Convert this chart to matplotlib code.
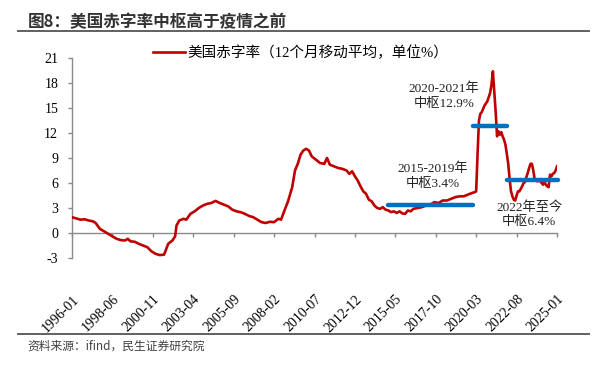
import matplotlib
matplotlib.use("Agg")
import matplotlib.pyplot as plt
from matplotlib.lines import Line2D

plt.rcParams['font.family'] = ['Liberation Serif', 'Noto Sans CJK SC']
plt.rcParams['axes.unicode_minus'] = False

# ==========================================
# Data (% of GDP, 12m moving avg)
# ==========================================
dates = [
    "1996-01", "1996-04", "1996-07", "1996-10", "1997-01", "1997-04", "1997-06", "1997-09", "1997-12",
    "1998-03", "1998-06", "1998-09", "1998-12", "1999-03", "1999-05", "1999-07", "1999-10",
    "2000-01", "2000-04", "2000-07", "2000-10", "2001-01", "2001-04", "2001-07", "2001-08", "2001-10",
    "2002-01", "2002-03", "2002-04", "2002-06", "2002-09", "2002-11", "2003-02", "2003-05", "2003-08",
    "2003-11", "2004-02", "2004-05", "2004-08", "2004-11", "2005-02", "2005-05", "2005-08", "2005-11",
    "2006-02", "2006-05", "2006-08", "2006-11", "2007-02", "2007-05", "2007-08", "2007-11",
    "2008-02", "2008-05", "2008-07", "2008-09", "2008-12", "2009-03", "2009-05", "2009-07", "2009-09",
    "2009-11", "2010-01", "2010-03", "2010-05", "2010-08", "2010-11", "2011-02", "2011-04", "2011-06",
    "2011-09", "2011-12", "2012-03", "2012-06", "2012-08", "2012-10", "2012-12", "2013-02", "2013-04",
    "2013-06", "2013-08", "2013-10", "2013-12", "2014-02", "2014-04", "2014-06", "2014-08", "2014-10",
    "2014-12", "2015-02", "2015-04", "2015-06", "2015-08", "2015-10", "2015-12", "2016-02", "2016-04",
    "2016-06", "2016-09", "2016-12", "2017-03", "2017-06", "2017-09", "2017-12", "2018-03", "2018-06",
    "2018-09", "2018-12", "2019-03", "2019-06", "2019-09", "2019-12", "2020-02", "2020-03", "2020-04",
    "2020-05", "2020-06", "2020-07", "2020-09", "2020-11", "2021-01", "2021-02", "2021-03", "2021-04",
    "2021-05", "2021-06", "2021-07", "2021-08", "2021-09", "2021-10", "2021-11", "2021-12",
    "2022-01", "2022-02", "2022-03", "2022-04", "2022-05", "2022-06", "2022-07", "2022-08", "2022-09",
    "2022-10", "2022-11", "2022-12", "2023-01", "2023-02", "2023-03", "2023-04", "2023-05", "2023-06",
    "2023-07", "2023-08", "2023-09", "2023-10", "2023-11", "2023-12", "2024-01", "2024-02", "2024-03",
    "2024-04", "2024-05", "2024-06", "2024-07", "2024-08", "2024-09", "2024-10", "2024-11", "2024-12",
    "2025-01",
]
deficit = [
    1.9, 1.75, 1.6, 1.65, 1.5, 1.4, 1.2, 0.5, 0.2,
    -0.1, -0.4, -0.7, -0.85, -0.9, -0.7, -1.0, -1.05,
    -1.3, -1.5, -1.7, -2.2, -2.5, -2.65, -2.6, -2.2, -1.3,
    -0.9, -0.4, 0.9, 1.5, 1.7, 1.6, 2.3, 2.6, 3.0,
    3.3, 3.5, 3.6, 3.85, 3.6, 3.4, 3.2, 2.8, 2.6,
    2.5, 2.3, 2.05, 1.9, 1.6, 1.3, 1.2, 1.35,
    1.3, 1.7, 1.6, 2.5, 3.8, 5.5, 7.5, 8.3, 9.4,
    9.9, 10.1, 9.9, 9.2, 8.8, 8.4, 8.3, 9.0, 8.2,
    8.0, 7.8, 7.7, 7.5, 7.1, 7.4, 6.8, 6.3, 5.6,
    5.0, 4.7, 4.0, 3.8, 3.3, 3.0, 2.9, 3.1, 2.8,
    2.7, 2.5, 2.6, 2.4, 2.6, 2.35, 2.3, 2.7, 2.6,
    2.9, 3.0, 3.1, 3.3, 3.4, 3.7, 3.6, 3.9, 3.9,
    4.1, 4.3, 4.4, 4.4, 4.6, 4.8, 4.9, 5.0, 9.5,
    13.5, 14.3, 14.5, 15.3, 15.8, 16.8, 17.8, 19.4, 17.0,
    14.5, 11.6, 12.2, 11.8, 12.1, 11.6, 11.2, 10.6,
    9.5, 8.3, 6.5, 5.0, 4.4, 4.0, 3.9, 4.5, 5.0,
    5.0, 5.3, 5.6, 6.0, 6.1, 6.7, 7.2, 7.8, 8.3,
    8.3, 7.5, 6.4, 6.3, 6.2, 6.3, 6.2, 6.0, 5.8,
    6.1, 5.8, 5.6, 5.5, 7.0, 6.8, 7.1, 7.2, 7.5,
    8.0,
]

# median levels for each period
hub_starts = ["2014-12", "2020-01", "2022-01"]
hub_ends = ["2020-01", "2022-01", "2025-02"]
hub_values = [3.4, 12.9, 6.4]
hub_labels = ["2015-2019年\n中枢3.4%", "2020-2021年\n中枢12.9%", "2022年至今\n中枢6.4%"]
hub_label_pos = [("2017-08", 6.8), ("2018-04", 16.4), ("2023-05", 2.2)]

tick_labels = ["1996-01", "1998-06", "2000-11", "2003-04", "2005-09", "2008-02", "2010-07",
               "2012-12", "2015-05", "2017-10", "2020-03", "2022-08", "2025-01"]
y_ticks = [-3, 0, 3, 6, 9, 12, 15, 18, 21]


def month_index(s):
    y, m = s.split("-")
    return (int(y) - 1996) * 12 + int(m) - 1


x = [month_index(d) for d in dates]

# ==========================================
# Plot
# ==========================================
fig = plt.figure(figsize=(6.03, 3.65), dpi=100)
ax = fig.add_axes([72 / 603, 1 - 258 / 365, 485 / 603, 200 / 365])

ax.plot(x, deficit, color="#C00000", lw=1.9, label="美国赤字率（12个月移动平均，单位%）",
        solid_joinstyle="round", zorder=3)

for s, e, v in zip(hub_starts, hub_ends, hub_values):
    ax.plot([month_index(s), month_index(e)], [v, v], color="#0070C0", lw=3.2,
            solid_capstyle="round", zorder=4, clip_on=False)

for txt, (d, v) in zip(hub_labels, hub_label_pos):
    ax.text(month_index(d), v, txt, ha="center", va="center", fontsize=9.5,
            linespacing=1.3, color="#222222", multialignment="center")

for sp in ["top", "right"]:
    ax.spines[sp].set_visible(False)
ax.spines["bottom"].set_position(("data", 0))
for sp in ["left", "bottom"]:
    ax.spines[sp].set_color("#8a8a8a")
    ax.spines[sp].set_linewidth(1.0)

ax.set_xlim(0, 348)
ax.set_ylim(-3, 21)
ax.set_yticks(y_ticks)
ax.set_xticks([month_index(t) for t in tick_labels])
ax.set_xticklabels(tick_labels)

ax.tick_params(axis="y", direction="out", length=3, width=1, color="#8a8a8a",
               labelsize=10, pad=7)
ax.tick_params(axis="x", direction="out", length=3, width=1, color="#8a8a8a",
               labelsize=10, pad=40)
for lab in ax.get_xticklabels():
    lab.set_rotation(45)
    lab.set_ha("right")
    lab.set_va("top")
    lab.set_rotation_mode("anchor")

leg = ax.legend(loc="center left", bbox_to_anchor=(153 / 603, 1 - 53 / 365),
                bbox_transform=fig.transFigure, frameon=False, fontsize=10.5,
                handlelength=2.2, handletextpad=0.15, borderpad=0, borderaxespad=0)

# title, rules and source
fig.text(28 / 603, 1 - 22 / 365, "图8：美国赤字率中枢高于疫情之前", fontsize=12,
         fontweight="bold", family=["Noto Sans CJK SC"], color="#333333", va="center")
fig.add_artist(Line2D([18 / 603, 589 / 603], [1 - 31 / 365] * 2, color="#606060", lw=1.4))
fig.add_artist(Line2D([18 / 603, 589 / 603], [1 - 334 / 365] * 2, color="#606060", lw=1.4))
fig.text(27 / 603, 1 - 346 / 365, "资料来源：ifind，民生证券研究院", fontsize=8.5,
         family=["Noto Sans CJK SC"], color="#404040", va="center")

fig.savefig("out.png", dpi=100)
